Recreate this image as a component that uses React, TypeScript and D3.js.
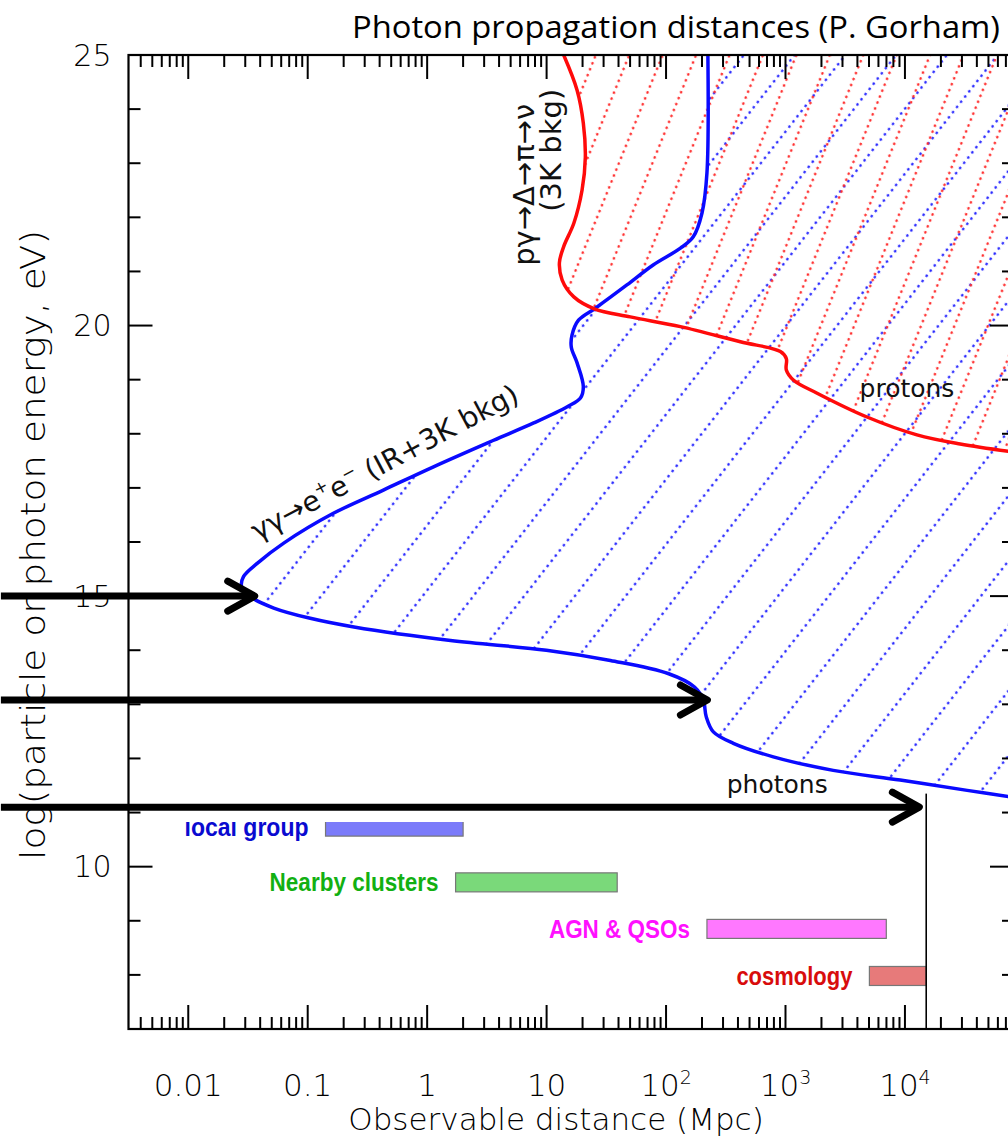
import { scaleLog, scaleLinear, line, curveCatmullRom, range } from "d3";

// photon horizon (blue): observable distance in Mpc vs log10(E / eV)
const photonDist = [224, 220, 200, 169, 132, 78, 47, 25.6, 18.5, 16.3, 16.1, 18.0, 20.3, 19.2, 14.9, 7.8, 3.6, 1.13, 0.43, 0.164, 0.063, 0.038, 0.029, 0.028, 0.033, 0.052, 0.105, 0.244, 1.57, 9.95, 34.2, 104, 173, 205, 217, 249, 366, 791, 2510, 9120, 33200, 82200];
const photonLogE = [25.0, 22.82, 22.08, 21.64, 21.43, 21.12, 20.75, 20.32, 20.1, 19.82, 19.6, 19.31, 18.87, 18.66, 18.5, 18.2, 17.88, 17.39, 16.96, 16.53, 15.98, 15.61, 15.36, 15.17, 14.99, 14.78, 14.59, 14.43, 14.18, 14.0, 13.81, 13.57, 13.32, 13.08, 12.77, 12.49, 12.28, 12.03, 11.78, 11.6, 11.41, 11.28];

// proton horizon (red)
const protonDist = [13.9, 18.0, 20.3, 21.1, 19.8, 16.9, 13.9, 12.8, 13.5, 16.9, 25.1, 50.2, 132, 419, 906, 1016, 1016, 1170, 1840, 4810, 12600, 29000, 82000];
const protonLogE = [25.0, 24.35, 23.74, 23.11, 22.5, 21.89, 21.46, 21.16, 20.84, 20.53, 20.31, 20.16, 19.98, 19.7, 19.52, 19.39, 19.18, 18.99, 18.75, 18.31, 17.98, 17.81, 17.66];

// source classes
const barNames = ["local group", "Nearby clusters", "AGN & QSOs", "cosmology"];
const barFrom = [0.141, 1.73, 220, 5040];
const barTo = [2.0, 39, 6980, 15070];
const barLogE = [10.74, 9.71, 8.85, 7.98];
const barFill = ["#7b7bfa", "#7ad97a", "#ff78ff", "#e77a7a"];
const barText = ["#0a0ad0", "#12b012", "#ff10ff", "#d80c0c"];
const barLabelWidth = [124, 169, 141, 116];

// arrows
const arrowLogE = [15.0, 13.08, 11.1];
const arrowTipDist = [0.036, 222, 13200];
const ARROW_TAIL = 0.00027;

const horizonDist = 15070;
const horizonTopLogE = 11.35;

const xTickValues = [0.01, 0.1, 1, 10, 100, 1000, 10000];
const xTickLabels = ["0.01", "0.1", "1", "10", "10^2", "10^3", "10^4"];
const yTickValues = [10, 15, 20, 25];

const FONT = "'DejaVu Sans', sans-serif";
const BOLD = "'Liberation Sans', Arial, sans-serif";

export default function App() {
  const width = 1008;
  const height = 1138;
  const x = scaleLog().domain([0.00316, 81850]).range([128.5, 1014]);
  const y = scaleLinear().domain([7, 25]).range([1029, 55]);
  const [x0, x1] = x.range();
  const [y0, y1] = y.range();

  const gen = line<[number, number]>()
    .x((d) => x(d[0]))
    .y((d) => y(d[1]))
    .curve(curveCatmullRom.alpha(0.5));

  const photonPath = gen(photonDist.map((d, i) => [d, photonLogE[i]])) ?? "";
  const protonPath = gen(protonDist.map((d, i) => [d, protonLogE[i]])) ?? "";
  const photonRegion = `${photonPath}L${x1},${y1}Z`;
  const protonRegion = `${protonPath}L${x1},${y1}Z`;

  const minorX = x.ticks().filter((t) => t >= 0.00316);
  const allY = range(7, 26);

  return (
    <svg width={width} height={height} style={{ position: "absolute", left: 0, top: 0, background: "#fff" }}>
      <defs>
        <pattern id="hatchBlue" patternUnits="userSpaceOnUse" width={40} height={6.6} patternTransform="rotate(38)">
          <circle cx={20} cy={3.3} r={1.3} fill="#2a2aff" />
        </pattern>
        <pattern id="hatchRed" patternUnits="userSpaceOnUse" width={31} height={6.4} patternTransform="rotate(22)">
          <circle cx={15} cy={3.2} r={1.3} fill="#ff3030" />
        </pattern>
        <clipPath id="plotClip">
          <rect x={x0} y={y1} width={x1 - x0} height={y0 - y1} />
        </clipPath>
        <clipPath id="barClip">
          <rect x={0} y={y(barLogE[0]) - 4.5} width={width} height={height} />
        </clipPath>
      </defs>

      {/* hatched regions */}
      <g clipPath="url(#plotClip)">
        <path d={photonRegion} fill="url(#hatchBlue)" />
        <path d={protonRegion} fill="url(#hatchRed)" />
        <path d={photonPath} fill="none" stroke="#0a0aff" strokeWidth={3.5} />
        <path d={protonPath} fill="none" stroke="#ff0a0a" strokeWidth={3.5} />
      </g>

      {/* curve labels */}
      <text
        transform={`translate(${x(0.038)},${y(16.02)}) rotate(-28)`}
        fontFamily={FONT}
        fontSize={28}
        fill="#111"
      >
        γγ→e<tspan fontSize={17} dy={-12}>+</tspan>
        <tspan dy={12}>e</tspan>
        <tspan fontSize={17} dy={-12}>−</tspan>
        <tspan dy={12}> (IR+3K bkg)</tspan>
      </text>
      <text
        transform={`translate(${x(7.9)},${y(22.6)}) rotate(-90)`}
        fontFamily={FONT}
        fontSize={29}
        textAnchor="middle"
        fill="#111"
      >
        pγ→Δ→π→ν
      </text>
      <text
        transform={`translate(${x(13.3)},${y(23.24)}) rotate(-90)`}
        fontFamily={FONT}
        fontSize={29}
        textAnchor="middle"
        fill="#111"
      >
        (3K bkg)
      </text>
      <text x={x(10400)} y={y(18.84)} fontFamily={FONT} fontSize={25} textAnchor="middle" dominantBaseline="central" fill="#111">
        protons
      </text>
      <text x={x(853)} y={y(11.51)} fontFamily={FONT} fontSize={25} textAnchor="middle" dominantBaseline="central" fill="#111">
        photons
      </text>

      {/* source class bars */}
      <g clipPath="url(#barClip)">
        {barNames.map((name, i) => (
          <g key={name}>
            <rect
              x={x(barFrom[i])}
              y={y(barLogE[i]) - 9.5}
              width={x(barTo[i]) - x(barFrom[i])}
              height={19}
              fill={barFill[i]}
              stroke="#777"
              strokeWidth={1.2}
            />
            <text
              x={x(barFrom[i]) - 17}
              y={y(barLogE[i])}
              dominantBaseline="central"
              textAnchor="end"
              fontFamily={BOLD}
              fontWeight="bold"
              fontSize={25}
              textLength={barLabelWidth[i]}
              lengthAdjust="spacingAndGlyphs"
              fill={barText[i]}
            >
              {name}
            </text>
          </g>
        ))}
      </g>

      <line x1={x(horizonDist)} x2={x(horizonDist)} y1={y(horizonTopLogE)} y2={y0} stroke="#000" strokeWidth={1.6} />

      {/* frame + ticks */}
      <rect x={x0} y={y1} width={x1 - x0} height={y0 - y1} fill="none" stroke="#000" strokeWidth={2.2} />
      {minorX.map((t, i) => {
        const major = Math.abs(Math.log10(t) - Math.round(Math.log10(t))) < 1e-6;
        const len = major ? 24 : 12;
        return (
          <g key={`xt${i}`} stroke="#000" strokeWidth={2}>
            <line x1={x(t)} x2={x(t)} y1={y0} y2={y0 - len} />
            <line x1={x(t)} x2={x(t)} y1={y1} y2={y1 + len} />
          </g>
        );
      })}
      {allY.map((v) => {
        const len = v % 5 === 0 ? 24 : 12;
        return (
          <g key={`yt${v}`} stroke="#000" strokeWidth={2}>
            <line x1={x0} x2={x0 + len} y1={y(v)} y2={y(v)} />
            <line x1={x1} x2={x1 - len} y1={y(v)} y2={y(v)} />
          </g>
        );
      })}

      {/* tick labels */}
      {xTickValues.map((v, i) => {
        const [base, sup] = xTickLabels[i].split("^");
        return (
          <text key={`xl${v}`} x={x(v)} y={y0 + 67} textAnchor="middle" fontFamily={FONT} fontWeight={200} fontSize={31} fill="#000">
            {base}
            {sup && (
              <tspan fontSize={19} dy={-12}>
                {sup}
              </tspan>
            )}
          </text>
        );
      })}
      {yTickValues.map((v) => (
        <text key={`yl${v}`} x={x0 - 17} y={y(v)} textAnchor="end" dominantBaseline="central" fontFamily={FONT} fontWeight={200} fontSize={30} fill="#000">
          {v}
        </text>
      ))}

      {/* axis titles */}
      <text x={556} y={1130} textAnchor="middle" fontFamily={FONT} fontWeight={200} fontSize={31} fill="#000">
        Observable distance (Mpc)
      </text>
      <text transform="translate(45,545) rotate(-90)" textAnchor="middle" fontFamily={FONT} fontWeight={200} fontSize={33} textLength={630} lengthAdjust="spacingAndGlyphs" fill="#000">
        log(particle or photon energy, eV)
      </text>

      {/* arrows */}
      {arrowLogE.map((e, i) => {
        const tx = x(arrowTipDist[i]);
        const ty = y(e);
        return (
          <g key={`ar${i}`} stroke="#000" strokeWidth={7} fill="none" strokeLinecap="round" strokeLinejoin="round">
            <line x1={x(ARROW_TAIL)} x2={tx - 3} y1={ty} y2={ty} strokeLinecap="butt" />
            <path d={`M${tx - 27},${ty - 15}L${tx},${ty}L${tx - 27},${ty + 15}`} />
          </g>
        );
      })}

      <text x={1000} y={38} textAnchor="end" fontFamily="'Open Sans', 'Noto Sans', sans-serif" fontWeight={400} fontSize={31} textLength={648} lengthAdjust="spacingAndGlyphs" fill="#000">
        Photon propagation distances (P. Gorham)
      </text>
    </svg>
  );
}
